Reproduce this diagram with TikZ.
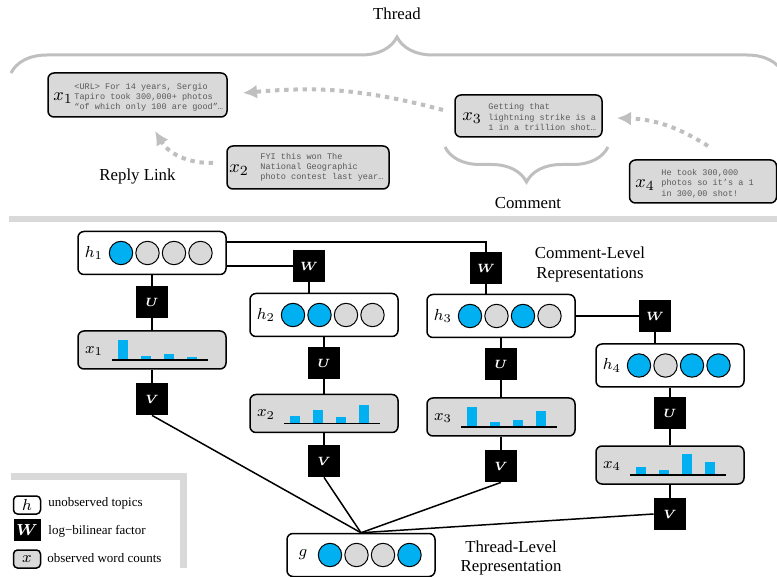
\documentclass[tikz,border=0pt]{standalone}
\usepackage{fontspec}
\setmainfont{Liberation Serif}
\setmonofont{Liberation Mono}
\usepackage{amsmath}
\usetikzlibrary{arrows.meta,decorations.pathreplacing}

\definecolor{topicblue}{HTML}{00B0F0}
\definecolor{boxgray}{HTML}{D9D9D9}
\definecolor{linkgray}{HTML}{BFBFBF}
\definecolor{textgray}{HTML}{595959}

\tikzset{
  hbox/.style={draw, rounded corners=3pt, fill=white, line width=0.75pt, minimum width=74pt, minimum height=21.5pt, inner sep=0pt},
  xbox/.style={hbox, fill=boxgray, minimum height=19pt},
  factor/.style={fill=black, minimum size=16pt, inner sep=0pt, text=white, font=\fontsize{6.5}{8}\selectfont\boldmath},
  topic/.style={circle, draw, line width=0.5pt, minimum size=11.7pt, inner sep=0pt},
  varlabel/.style={inner sep=0pt, font=\fontsize{8}{9}\selectfont},
  link/.style={line width=0.75pt},
  comment/.style={draw, rounded corners=3pt, fill=boxgray, line width=0.75pt, inner sep=0pt},
  commentlabel/.style={inner sep=0pt, font=\fontsize{9.5}{10}\selectfont},
  commenttext/.style={anchor=west, align=left, inner sep=0pt, text=textgray, font=\fontsize{4.27}{5.1}\selectfont\ttfamily},
  caption/.style={align=center, font=\fontsize{8.4}{9.6}\selectfont},
  keytext/.style={anchor=west, inner sep=0pt, font=\fontsize{6.5}{7.5}\selectfont},
  reply/.style={linkgray, line width=2pt, dash pattern=on 2.2pt off 2.4pt, -{Latex[length=7pt,width=7pt]}},
  curly/.style={linkgray, line width=1.5pt, decorate, decoration={brace, amplitude=#1}},
}

% topic vector: name, x, y, label, colours of the four units
\newcommand{\topicvec}[5]{%
  \node[hbox] (#1) at (#2,#3) {};
  \node[varlabel] (#1lab) at (#2-58,#3) {$#4$};
  \foreach \tcol [count=\k] in {#5}
    \node[topic, fill=\tcol] (#1u\k) at (#2-57.5+26.5*\k,#3) {};
}

% word counts: name, x, y, label, bar heights
\newcommand{\countvec}[5]{%
  \node[xbox] (#1) at (#2,#3) {};
  \node[varlabel] (#1lab) at (#2-58,#3+1) {$#4$};
  \foreach \barh [count=\k] in {#5}
    \fill[topicblue] (#2-57+23*\k,#3+10) rectangle ++(10,-\barh);
  \draw[line width=0.7pt] (#2-40,#3+10) -- (#2+56,#3+10);
}

\begin{document}
\begin{tikzpicture}[x=0.5pt, y=-0.5pt]
  \useasboundingbox (0,0) rectangle (777,577);

  % the thread of comments
  \node[caption] (thread) at (397,14) {Thread};
  \draw[curly=18pt] (11,73) -- (783,73);

  \node[comment, minimum width=89.5pt, minimum height=22pt] (c1) at (137.5,95) {};
  \node[commentlabel] (c1lab) at (63,98) {$x_1$};
  \node[commenttext] (c1text) at (74,97) {<URL> For 14 years, Sergio\\Tapiro took 300,000+ photos\\“of which only 100 are good”…};

  \node[comment, minimum width=81pt, minimum height=21.5pt] (c2) at (308,167.5) {};
  \node[commentlabel] (c2lab) at (239,170) {$x_2$};
  \node[commenttext] (c2text) at (260,167.5) {FYI this won The\\National Geographic\\photo contest last year…};

  \node[comment, minimum width=73.5pt, minimum height=21pt] (c3) at (528.5,116) {};
  \node[commentlabel] (c3lab) at (472,118) {$x_3$};
  \node[commenttext] (c3text) at (488,117) {Getting that\\lightning strike is a\\1 in a trillion shot…};

  \node[comment, minimum width=73.5pt, minimum height=21.5pt] (c4) at (703,181.5) {};
  \node[commentlabel] (c4lab) at (645,185) {$x_4$};
  \node[commenttext] (c4text) at (661,183.5) {He took 300,000\\photos so it’s a 1\\in 300,00 shot!};

  % reply links
  \coordinate (r3) at (443,110);
  \coordinate (r1) at (243,93);
  \coordinate (r2) at (213,163);
  \coordinate (r1b) at (155,131);
  \coordinate (r4) at (708,146);
  \coordinate (r3b) at (617,118);
  \draw[reply] (r3) to[bend right=10] (r1);
  \draw[reply] (r2) to[bend left=30] (r1b);
  \draw[reply] (r4) to[bend right=15] (r3b);

  \node[caption] (replylink) at (137.5,176) {Reply Link};
  \draw[curly=17.5pt] (608,147) -- (445,147);
  \node[caption] (comment) at (528,203) {Comment};

  \draw[boxgray, line width=3pt] (9,219) -- (790,219);

  % comment-level representations
  \topicvec{h1}{152}{253}{h_1}{topicblue,boxgray,boxgray,boxgray}
  \topicvec{h2}{324}{315}{h_2}{topicblue,topicblue,boxgray,boxgray}
  \topicvec{h3}{501}{316}{h_3}{topicblue,boxgray,topicblue,boxgray}
  \topicvec{h4}{670}{365.5}{h_4}{topicblue,boxgray,topicblue,topicblue}

  \countvec{x1}{152}{350}{x_1}{20,4,6,3}
  \countvec{x2}{324}{413.5}{x_2}{7,13,6,18}
  \countvec{x3}{501}{417}{x_3}{20,5,7,16}
  \countvec{x4}{670}{465}{x_4}{8,5,21,13}

  \node[factor] (U1) at (152,302) {$U$};
  \node[factor] (V1) at (152,399) {$V$};
  \node[factor] (W2) at (309,266) {$W$};
  \node[factor] (U2) at (324,363) {$U$};
  \node[factor] (V2) at (324,461) {$V$};
  \node[factor] (W3) at (486,268) {$W$};
  \node[factor] (U3) at (501,364) {$U$};
  \node[factor] (V3) at (501,466) {$V$};
  \node[factor] (W4) at (655,316) {$W$};
  \node[factor] (U4) at (670,413) {$U$};
  \node[factor] (V4) at (670,514) {$V$};

  \node[caption] (commentlevel) at (590,264.5) {Comment-Level\\Representations};

  % thread-level representation
  \topicvec{g}{361}{555}{g}{topicblue,boxgray,boxgray,topicblue}
  \node[caption] (threadlevel) at (511,558) {Thread-Level\\Representation};

  \draw[link] ([yshift=5.5pt]h1.east) -| (W3);
  \draw[link] ([yshift=-6.5pt]h1.east) -- (W2);
  \draw[link] (W2) -- (W2 |- h2.north);
  \draw[link] (W3) -- (W3 |- h3.north);
  \draw[link] (h3) -- (W4);
  \draw[link] (W4) -- (W4 |- h4.north);

  \draw[link] (h1) -- (U1);
  \draw[link] (U1) -- (x1);
  \draw[link] (x1) -- (V1);
  \draw[link] (h2) -- (U2);
  \draw[link] (U2) -- (x2);
  \draw[link] (x2) -- (V2);
  \draw[link] (h3) -- (U3);
  \draw[link] (U3) -- (x3);
  \draw[link] (x3) -- (V3);
  \draw[link] (h4) -- (U4);
  \draw[link] (U4) -- (x4);
  \draw[link] (x4) -- (V4);

  \draw[link] (V1.south) -- (g.north);
  \draw[link] (V2.south) -- (g.north);
  \draw[link] (V3.south) -- (g.north);
  \draw[link] (V4.west) -- (g.north);

  % legend
  \draw[boxgray, line width=3.25pt] (11,476.5) -| (183.5,568);
  \node[hbox, minimum width=13.5pt, minimum height=9pt, rounded corners=2pt, font=\fontsize{8}{9}\selectfont] (keyh) at (27,505) {$h$};
  \node[factor, minimum width=13.5pt, minimum height=11pt, font=\fontsize{8.5}{10}\selectfont\boldmath] (keyw) at (27,530) {$W$};
  \node[xbox, minimum width=13.5pt, minimum height=9pt, rounded corners=2pt, font=\fontsize{8}{9}\selectfont] (keyx) at (27,559) {$x$};
  \node[keytext] (keyhtext) at (48,503) {unobserved topics};
  \node[keytext] (keywtext) at (48,531) {log−bilinear factor};
  \node[keytext] (keyxtext) at (47,558) {observed word counts};
\end{tikzpicture}
\end{document}
